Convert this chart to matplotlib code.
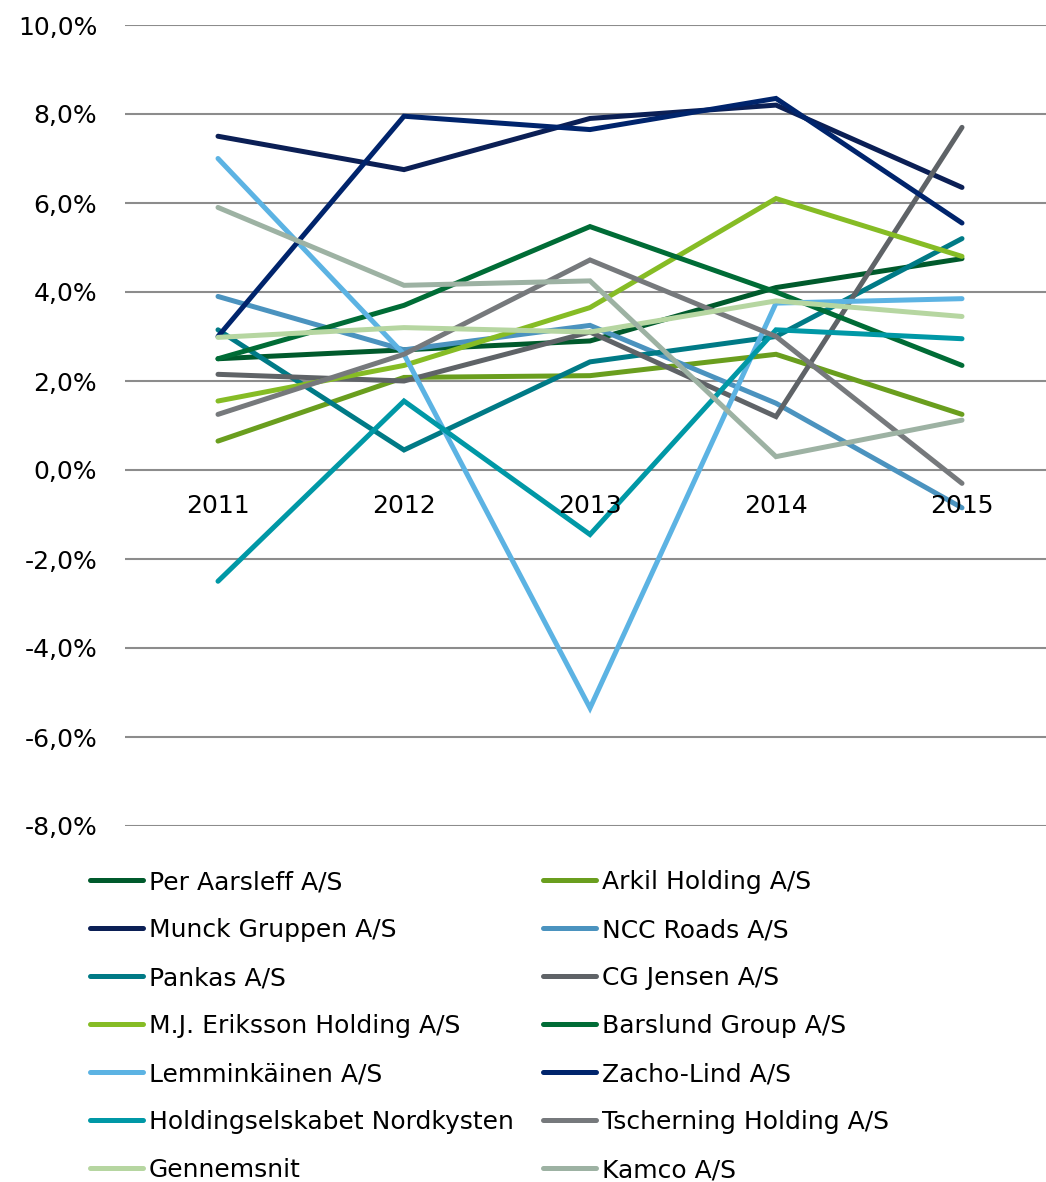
import matplotlib
matplotlib.use("Agg")
import matplotlib.pyplot as plt
from matplotlib.ticker import FuncFormatter

years = ["2011", "2012", "2013", "2014", "2015"]

# return in % per company
per_aarsleff = [2.5, 2.7, 2.9, 4.1, 4.75]
arkil = [0.65, 2.08, 2.12, 2.6, 1.25]
munck = [7.5, 6.75, 7.9, 8.2, 6.35]
ncc_roads = [3.9, 2.7, 3.25, 1.5, -0.85]
pankas = [3.15, 0.45, 2.43, 3.0, 5.2]
cg_jensen = [2.15, 2.0, 3.1, 1.2, 7.7]
mj_eriksson = [1.55, 2.35, 3.65, 6.1, 4.8]
barslund = [2.5, 3.7, 5.47, 4.0, 2.35]
lemminkainen = [7.0, 2.6, -5.35, 3.75, 3.85]
zacho_lind = [3.0, 7.95, 7.65, 8.35, 5.55]
nordkysten = [-2.5, 1.55, -1.45, 3.15, 2.95]
tscherning = [1.25, 2.6, 4.72, 3.0, -0.3]
gennemsnit = [2.98, 3.2, 3.1, 3.8, 3.45]
kamco = [5.9, 4.15, 4.25, 0.3, 1.12]

series = [
    ("Per Aarsleff A/S", per_aarsleff, "#005a2c"),
    ("Arkil Holding A/S", arkil, "#6a9e1e"),
    ("Munck Gruppen A/S", munck, "#0b1f55"),
    ("NCC Roads A/S", ncc_roads, "#4b93bf"),
    ("Pankas A/S", pankas, "#007a86"),
    ("CG Jensen A/S", cg_jensen, "#5f6367"),
    ("M.J. Eriksson Holding A/S", mj_eriksson, "#86bc25"),
    ("Barslund Group A/S", barslund, "#006c36"),
    ("Lemminkäinen A/S", lemminkainen, "#5cb3e3"),
    ("Zacho-Lind A/S", zacho_lind, "#00246c"),
    ("Holdingselskabet Nordkysten", nordkysten, "#0098a6"),
    ("Tscherning Holding A/S", tscherning, "#76797c"),
    ("Gennemsnit", gennemsnit, "#b6d6a1"),
    ("Kamco A/S", kamco, "#9db2a3"),
]

fig = plt.figure(figsize=(10.46, 11.82), dpi=100)
ax = fig.add_axes([125 / 1046, 1 - 826 / 1182, 930 / 1046, 801 / 1182])

x = list(range(len(years)))
handles = []
for name, vals, col in series:
    h, = ax.plot(x, vals, color=col, lw=3.6, solid_capstyle="round",
                 solid_joinstyle="miter", label=name)
    handles.append(h)

ax.set_xlim(-0.5, 4.5)
ax.set_ylim(-8, 10)
ax.set_yticks(range(-8, 11, 2))
ax.yaxis.set_major_formatter(FuncFormatter(lambda v, p: f"{v:.1f}%".replace(".", ",")))
ax.tick_params(axis="y", length=0, pad=20, labelsize=18)
ax.set_xticks([])
ax.grid(axis="y", color="#8c8c8c", lw=1.5)
ax.set_axisbelow(True)
for s in ax.spines.values():
    s.set_visible(False)

# year labels sit just below the zero line
for i, yr in enumerate(years):
    ax.annotate(yr, (i, 0), xytext=(0, -26), textcoords="offset points",
                ha="center", va="center", fontsize=18)

# two legend columns placed separately
legkw = dict(loc="upper left", ncol=1, frameon=False, fontsize=18, handlelength=2.1,
             handletextpad=0.25, labelspacing=0.96, borderaxespad=0, borderpad=0)
top = 1 - 870 / 1182
fig.legend(handles[0::2], [s[0] for s in series[0::2]],
           bbox_to_anchor=(90 / 1046, top), **legkw)
fig.legend(handles[1::2], [s[0] for s in series[1::2]],
           bbox_to_anchor=(543 / 1046, top), **legkw)

fig.savefig("out.png", dpi=100)
